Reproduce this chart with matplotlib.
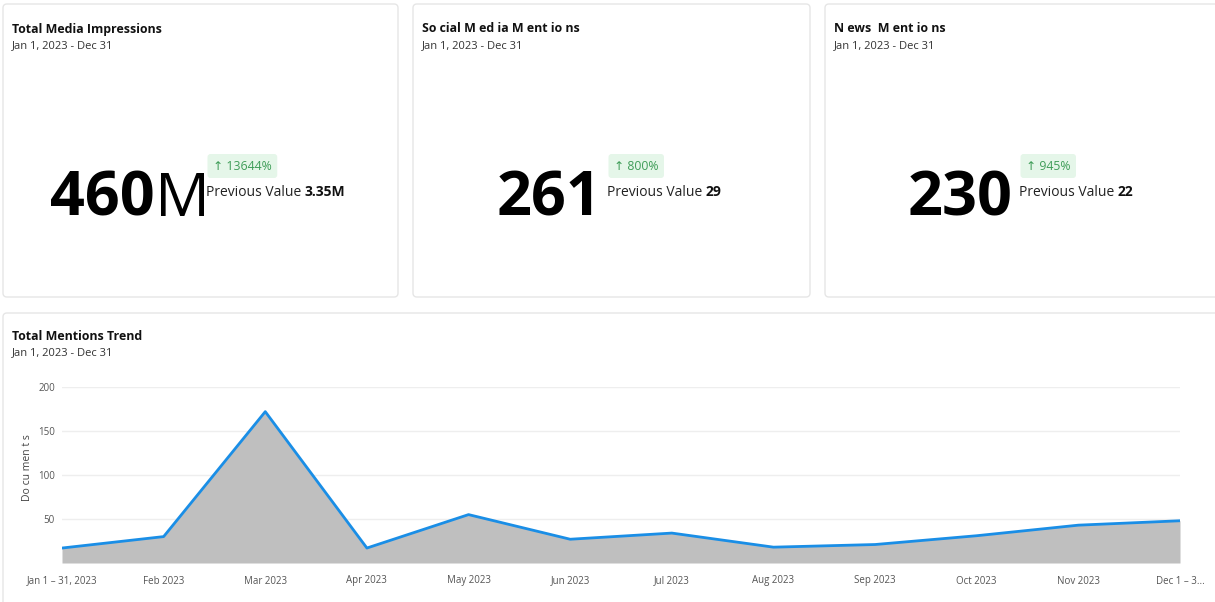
import matplotlib.pyplot as plt
from matplotlib.patches import FancyBboxPatch

plt.rcParams['font.family'] = ['Open Sans', 'DejaVu Sans']

# KPI cards
card_titles = ["Total Media Impressions", "So cial M ed ia M ent io ns", "N ews  M ent io ns"]
card_values = ["460", "261", "230"]
card_suffix = ["M", "", ""]
card_changes = ["13644%", "800%", "945%"]
card_previous = ["3.35M", "29", "22"]
date_range = "Jan 1, 2023 - Dec 31"

# trend chart
months = ["Jan 1 – 31, 2023", "Feb 2023", "Mar 2023", "Apr 2023", "May 2023", "Jun 2023",
          "Jul 2023", "Aug 2023", "Sep 2023", "Oct 2023", "Nov 2023", "Dec 1 – 3..."]
mentions = [17, 30, 172, 17, 55, 27, 34, 18, 21, 31, 43, 48]

W, H = 1215, 602
fig = plt.figure(figsize=(W / 100, H / 100), dpi=100)
bg = fig.add_axes([0, 0, 1, 1])
bg.set_xlim(0, W)
bg.set_ylim(H, 0)
bg.axis("off")

def card(x0, y0, x1, y1):
    bg.add_patch(FancyBboxPatch((x0, y0), x1 - x0, y1 - y0, boxstyle="round,pad=0,rounding_size=4",
                                fc="white", ec="#e6e6e6", lw=1.0))

card_x = [3, 413, 825]
card_w = [395, 397, 400]
big_x = [50, 497, 908]
side_x = [206, 607, 1019]

for i in range(3):
    x0 = card_x[i]
    card(x0, 4, x0 + card_w[i], 297)
    bg.text(x0 + 9, 29, card_titles[i], fontsize=8.9, fontweight="bold", va="center", color="#111111")
    bg.text(x0 + 9, 46, date_range, fontsize=8, va="center", color="#333333")
    t = bg.text(big_x[i], 215, card_values[i], fontsize=44, fontweight="bold", va="baseline", color="black")
    if card_suffix[i]:
        bg.annotate(card_suffix[i], xy=(1, 0), xycoords=t, fontsize=44, va="bottom", color="black")
    badge = "↑ " + card_changes[i]
    bg.text(side_x[i] + 7, 166, badge, fontsize=8.8, va="center", color="#3f9d58",
            bbox=dict(boxstyle="round,pad=0.45,rounding_size=0.25", fc="#e5f6e9", ec="none"))
    p = bg.text(side_x[i], 195.5, "Previous Value ", fontsize=10, va="baseline", color="#222222")
    bg.annotate(card_previous[i], xy=(1, 0), xycoords=p, fontsize=10, fontweight="bold",
                va="bottom", color="#111111")

# trend card
card(3, 313, 1230, 620)
bg.text(12, 337, "Total Mentions Trend", fontsize=8.9, fontweight="bold", va="center", color="#111111")
bg.text(12, 353, date_range, fontsize=8, va="center", color="#333333")
bg.text(27, 468, "Do cu men t s", fontsize=7.5, rotation=90, va="center", ha="center", color="#444444")

ax = fig.add_axes([62 / W, 1 - 563 / H, (1180 - 62) / W, (563 - 387) / H])
x = list(range(len(months)))
ax.fill_between(x, mentions, 0, color="#bfbfbf", lw=0)
ax.plot(x, mentions, color="#1a8ee6", lw=2)
ax.set_xlim(0, len(months) - 1)
ax.set_ylim(0, 200)
ax.set_yticks([50, 100, 150, 200])
ax.set_xticks(x)
ax.set_xticklabels(months)
ax.tick_params(axis="both", length=0, labelsize=7, labelcolor="#555555")
ax.tick_params(axis="x", pad=9)
ax.tick_params(axis="y", pad=5)
ax.grid(axis="y", color="#eeeeee", lw=1)
ax.set_axisbelow(True)
for s in ax.spines.values():
    s.set_visible(False)
ax.patch.set_alpha(0)

fig.savefig("out.png", dpi=100)
